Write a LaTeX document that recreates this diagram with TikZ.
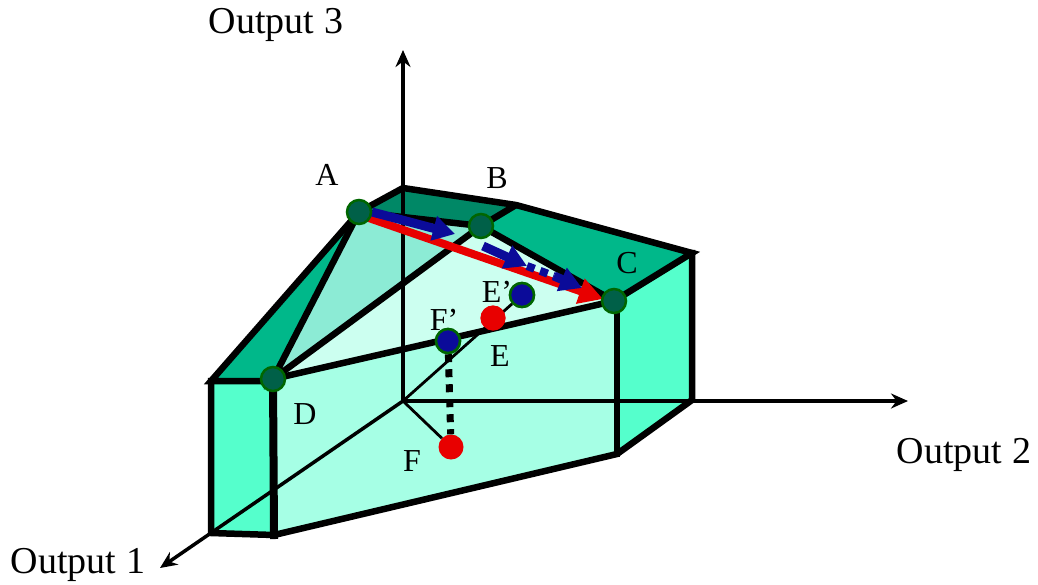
\documentclass[tikz,border=0pt]{standalone}
\usepackage{fontspec}
\setmainfont{Liberation Serif}
\usepackage{xcolor}
\usetikzlibrary{arrows.meta, positioning, calc}

\definecolor{endface}{HTML}{55FFCC}
\definecolor{frontface}{HTML}{A6FFE5}
\definecolor{backface}{HTML}{008866}
\definecolor{topface}{HTML}{00B88A}
\definecolor{midface}{HTML}{8CEBD5}
\definecolor{innerface}{HTML}{CCFFF0}
\definecolor{vertexfill}{HTML}{006048}
\definecolor{vertexring}{HTML}{006600}
\definecolor{arrowblue}{HTML}{0B0B99}
\definecolor{arrowred}{HTML}{E80000}

\begin{document}
\begin{tikzpicture}[
    x=1pt,
    y=-1pt,
    edge/.style={line width=6.5pt, line cap=rect, line join=miter},
    axis/.style={line width=3.5pt, -{Stealth[length=17pt,width=15pt]}},
    thinline/.style={line width=2.8pt},
    vertex/.style={circle, draw=vertexring, fill=vertexfill, line width=2.5pt, minimum size=24pt, inner sep=0pt},
    projected/.style={circle, draw=vertexring, fill=arrowblue, line width=2.5pt, minimum size=24pt, inner sep=0pt},
    target/.style={circle, draw=none, fill=arrowred, minimum size=25pt, inner sep=0pt},
    axislabel/.style={font=\fontsize{38}{40}\selectfont, inner sep=0pt},
    pointlabel/.style={font=\fontsize{32}{34}\selectfont, inner sep=0pt},
    redpath/.style={line width=8pt, draw=arrowred, -{Triangle[length=24pt,width=25pt]}},
    bluepath/.style={line width=9pt, draw=arrowblue, -{Triangle[length=22pt,width=24pt]}}
]
    \useasboundingbox (0,0) rectangle (1038,584);

    % Corners of the solid
    \coordinate (a) at (359,212);
    \coordinate (b) at (481,226);
    \coordinate (c) at (614,301);
    \coordinate (d) at (273,379);
    \coordinate (dtop) at (273,381);
    \coordinate (ctop) at (617,301);
    \coordinate (backa) at (403,188);
    \coordinate (backb) at (516,205);
    \coordinate (backc) at (692,253);
    \coordinate (backd) at (692,400);
    \coordinate (lowc) at (617,454);
    \coordinate (lowd) at (274,535);
    \coordinate (lefttop) at (211,381);
    \coordinate (leftlow) at (211,533);
    \coordinate (origin) at (403,401);
    \coordinate (end3) at (403,50);
    \coordinate (end2) at (908,401);
    \coordinate (end1) at (160,568);

    % Faces
    \fill [endface] (lefttop) -- (dtop) -- (lowd) -- (leftlow) -- cycle;
    \fill [frontface] (d) -- (c) -- (lowc) -- (lowd) -- cycle;
    \fill [endface] (c) -- (backc) -- (backd) -- (lowc) -- cycle;
    \fill [backface] (a) -- (backa) -- (backb) -- (b) -- cycle;
    \fill [topface] (b) -- (backb) -- (backc) -- (c) -- cycle;
    \fill [topface] (a) -- (d) -- (lefttop) -- cycle;
    \fill [midface] (a) -- (b) -- (d) -- cycle;
    \fill [innerface] (b) -- (c) -- (d) -- cycle;

    % Axes
    \draw [axis] (origin) -- (end3);
    \draw [axis] (origin) -- (end2);
    \draw [axis] (origin) -- (end1);

    % Edges
    \draw [edge] (dtop) -- (lefttop) -- (a) -- (backa) -- (backb) -- (backc) -- (c);
    \draw [edge] (a) -- (b) -- (c) -- (d);
    \draw [edge] (a) -- (d) -- (b);
    \draw [edge, line cap=butt] (b) -- (backb);
    \draw [edge] (backc) -- (backd) -- (lowc) -- (lowd) -- (leftlow) -- (lefttop);
    \draw [edge] (ctop) -- (lowc);
    \draw [edge, line width=8pt] (d) -- (lowd);

    % Points
    \node [target] (pe) at (493,318) {};
    \node [target] (pf) at (451,447) {};
    \node [projected] (pep) at (522,295) {};
    \node [projected] (pfp) at (448,341) {};
    \draw [thinline] (origin) -- (pep);
    \draw [thinline] (origin) -- (pf);
    \draw [line width=7pt, dash pattern=on 8pt off 7pt] (pfp) -- (pf);
    \node [target] at (pe) {};
    \node [projected] at (pep) {};
    \node [projected] at (pfp) {};

    % Paths along the top
    \coordinate (red0) at (363,216);
    \coordinate (red1) at (603,299);
    \coordinate (blue0) at (372,212);
    \coordinate (blue1) at (455,234);
    \coordinate (blue2) at (483,246);
    \coordinate (blue3) at (527,266);
    \coordinate (blue4) at (554,276);
    \coordinate (blue5) at (582,288);
    \draw [redpath] (red0) -- (red1);
    \draw [bluepath] (blue0) -- (blue1);
    \draw [bluepath] (blue2) -- (blue3);
    \draw [line width=8pt, draw=arrowblue, dash pattern=on 8pt off 6pt] (blue3) -- (blue4);
    \draw [bluepath] (blue4) -- (blue5);

    \node [vertex] (va) at (a) {};
    \node [vertex] (vb) at (b) {};
    \node [vertex] (vc) at (c) {};
    \node [vertex] (vd) at (d) {};

    % Labels
    \node [axislabel] (label3) at (276,25) {Output 3};
    \node [axislabel] (label2) at (964,455) {Output 2};
    \node [axislabel] (label1) at (78,565) {Output 1};
    \node [pointlabel] (laba) at (327,175) {A};
    \node [pointlabel] (labb) at (497,178) {B};
    \node [pointlabel] (labc) at (627,263) {C};
    \node [pointlabel] (labd) at (305,414) {D};
    \node [pointlabel] (labe) at (500,356) {E};
    \node [pointlabel] (labf) at (412,461) {F};
    \node [pointlabel] (labep) at (497,292) {E’};
    \node [pointlabel] (labfp) at (444,320) {F’};
\end{tikzpicture}
\end{document}
